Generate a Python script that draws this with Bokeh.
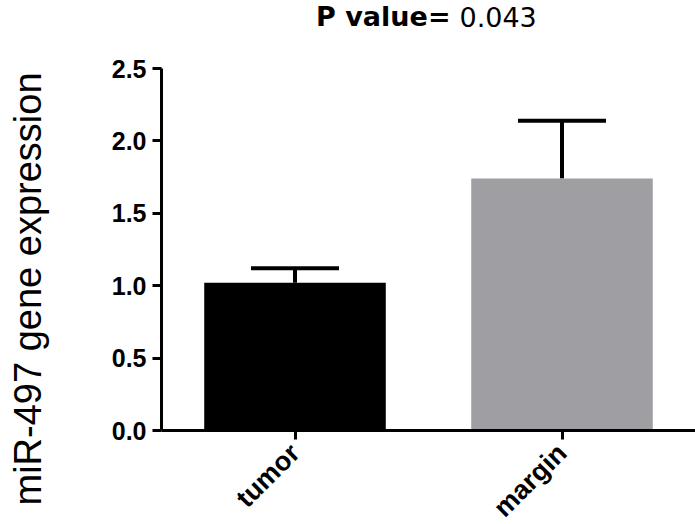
import math
from bokeh.plotting import figure
from bokeh.models import (ColumnDataSource, Whisker, TeeHead, Label, FactorRange,
                          Range1d, FixedTicker, PrintfTickFormatter, Title)
from bokeh.embed import file_html
from bokeh.resources import INLINE

groups = ["tumor", "margin"]
means = [1.02, 1.74]
sems = [0.10, 0.40]
colors = ["#000000", "#9f9ea3"]
y_ticks = [0.0, 0.5, 1.0, 1.5, 2.0, 2.5]
y_axis_max = 2.5
title_bold = "P value="
title_value = "0.043"
y_label = "miR-497 gene expression"

FONT = "Liberation Sans"
TITLE_FONT = "DejaVu Sans"

src = ColumnDataSource(dict(
    group=groups, mean=means,
    upper=[m + s for m, s in zip(means, sems)],
    color=colors,
))

# frame extends to the top of the canvas so the title labels can live in it;
# the y axis itself is bounded to 0..2.5
p = figure(x_range=FactorRange(*groups, range_padding=0),
           y_range=Range1d(0, 2.97),
           frame_width=534, frame_height=430,
           min_border_left=161, min_border_right=0,
           min_border_top=0, min_border_bottom=40,
           output_backend="svg", toolbar_location=None)

p.outline_line_color = None
p.grid.visible = False
p.background_fill_color = "white"
p.border_fill_color = "white"

p.vbar(x="group", top="mean", bottom=0, width=0.68, source=src,
       fill_color="color", line_color=None)

wh = Whisker(base="group", lower="mean", upper="upper", source=src,
             line_color="black", line_width=4,
             lower_head=None,
             upper_head=TeeHead(size=88, line_color="black", line_width=4))
p.add_layout(wh)

for ax in (p.xaxis[0], p.yaxis[0]):
    ax.axis_line_width = 3
    ax.axis_line_color = "black"
    ax.major_tick_line_width = 3
    ax.major_tick_line_color = "black"
    ax.major_tick_out = 9
    ax.major_tick_in = 0
    ax.minor_tick_line_color = None
    ax.major_label_text_font = FONT
    ax.major_label_text_font_style = "bold"
    ax.major_label_text_font_size = "25px"
    ax.major_label_text_color = "black"

p.yaxis.bounds = (0, y_axis_max)
p.yaxis.ticker = FixedTicker(ticks=y_ticks)
p.yaxis.formatter = PrintfTickFormatter(format="%.1f")
p.yaxis.major_label_standoff = 6
# blank spacer label so the side title sits at the far left edge
p.yaxis.axis_label = " "
p.yaxis.axis_label_text_font_size = "10px"
p.yaxis.axis_label_standoff = 44
p.xaxis.major_label_orientation = math.pi / 4
p.xaxis.major_label_standoff = 9
p.xaxis.major_label_text_font_size = "27px"

p.add_layout(Title(text=y_label, align="left", offset=-75, standoff=0,
                   vertical_align="top",
                   text_font=FONT, text_font_style="normal",
                   text_font_size="38px", text_color="black"), "left")

p.add_layout(Label(x=289, y=414, x_units="screen", y_units="screen",
                   text=title_bold, text_align="right", text_baseline="alphabetic",
                   text_font=TITLE_FONT, text_font_style="bold",
                   text_font_size="27px", text_color="black"))
p.add_layout(Label(x=298, y=414, x_units="screen", y_units="screen",
                   text=title_value, text_align="left", text_baseline="alphabetic",
                   text_font=TITLE_FONT, text_font_size="27px", text_color="black"))

open("out.html", "w").write(file_html(p, INLINE))
